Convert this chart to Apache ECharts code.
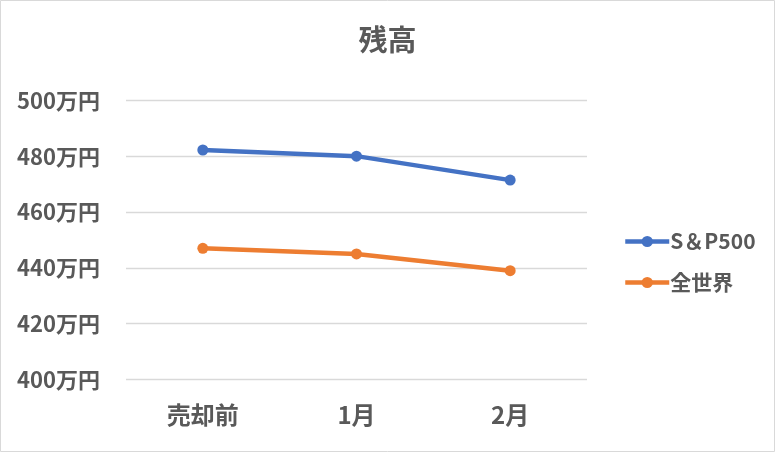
<!DOCTYPE html>
<html><head><meta charset="utf-8">
<script src="https://cdn.jsdelivr.net/npm/echarts@6/dist/echarts.min.js"></script>
<style>html,body{margin:0;padding:0;background:#fff}#c{width:775px;height:452px}</style>
</head><body><div id="c"></div>
<script>
const categories = ['売却前', '1月', '2月'];
const sp500 = [482.3, 480.1, 471.5];
const world = [447.0, 445.0, 439.0];
const seriesNames = ['S＆P500', '全世界'];
const yMin = 400, yMax = 500, yStep = 20;

const font = '"Noto Sans CJK JP", "Noto Sans", sans-serif';
const chart = echarts.init(document.getElementById('c'), null, {renderer: 'canvas'});
chart.setOption({
  animation: false,
  backgroundColor: '#fff',
  title: {
    text: '残高', left: 'center', top: 20,
    textStyle: {fontFamily: font, fontSize: 29, fontWeight: 'bold', color: '#595959'}
  },
  graphic: [{type: 'rect', shape: {x: 0.5, y: 0.5, width: 774, height: 451},
    style: {fill: null, stroke: '#d9d9d9', lineWidth: 1}}],
  legend: {
    orient: 'vertical', left: 618, top: 226, itemWidth: 44, itemHeight: 14, itemGap: 20,
    lineStyle: {width: 4.5},
    textStyle: {fontFamily: font, fontSize: 21, fontWeight: 'bold', color: '#595959', padding: [0,0,0,-4]},
    data: seriesNames
  },
  grid: {left: 126, right: 188, top: 100.7, bottom: 72.7, containLabel: false},
  xAxis: {
    type: 'category', data: categories, boundaryGap: true,
    axisLine: {show: false}, axisTick: {show: false},
    axisLabel: {fontFamily: font, fontSize: 24, fontWeight: 'bold', color: '#595959', margin: 24}
  },
  yAxis: {
    type: 'value', min: yMin, max: yMax, interval: yStep,
    axisLine: {show: false}, axisTick: {show: false},
    splitLine: {lineStyle: {color: '#d9d9d9', width: 1.3}},
    axisLabel: {fontFamily: font, fontSize: 22, fontWeight: 'bold', color: '#595959', margin: 26,
      formatter: v => v + '万円'}
  },
  series: [
    {name: seriesNames[0], type: 'line', data: sp500, symbol: 'circle', symbolSize: 11,
     itemStyle: {color: '#4472C4'}, lineStyle: {color: '#4472C4', width: 4.5}},
    {name: seriesNames[1], type: 'line', data: world, symbol: 'circle', symbolSize: 11,
     itemStyle: {color: '#ED7D31'}, lineStyle: {color: '#ED7D31', width: 4.5}}
  ]
});
</script></body></html>
